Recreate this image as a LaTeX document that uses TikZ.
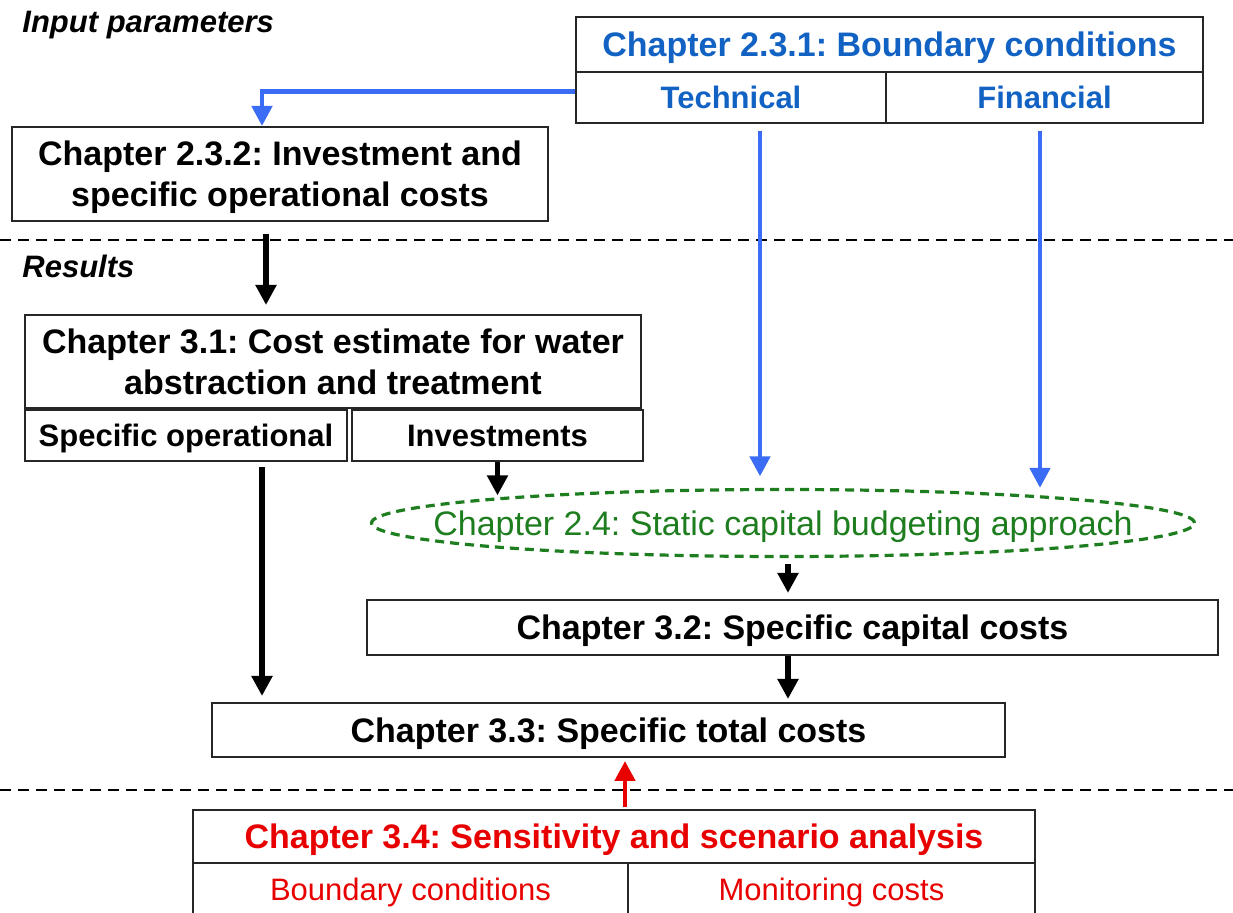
\documentclass[tikz,border=0pt]{standalone}
\usepackage{fontspec}
\setmainfont{Liberation Sans}
\usetikzlibrary{arrows.meta,shapes.geometric}
\frenchspacing

\definecolor{titleblue}{RGB}{18,98,196}
\definecolor{arrowblue}{RGB}{58,108,245}
\definecolor{budgetgreen}{RGB}{30,125,30}
\definecolor{sensred}{RGB}{232,0,0}

\tikzset{
  headB/.style={font=\fontsize{17pt}{20.5pt}\selectfont\bfseries},
  headR/.style={font=\fontsize{17pt}{20.5pt}\selectfont},
  subB/.style={font=\fontsize{15.5pt}{18pt}\selectfont\bfseries},
  subR/.style={font=\fontsize{15.5pt}{18pt}\selectfont},
  cell/.style={draw=black!85, line width=1pt, inner sep=0pt, align=center, text depth=0pt},
  flow/.style={line width=2.8pt, -{Triangle[width=10pt,length=10pt]}},
  blueflow/.style={flow, arrowblue, line width=2.3pt},
  sepline/.style={line width=1.4pt, dash pattern=on 5.5pt off 3.5pt},
  sectionlabel/.style={font=\fontsize{15.5pt}{18pt}\selectfont\bfseries\itshape, anchor=west, inner sep=0pt}
}

\begin{document}
\begin{tikzpicture}[x=0.5pt,y=-0.5pt]
\useasboundingbox (0,0) rectangle (1233,913);
\clip (0,0) rectangle (1233,913);

% section labels and separators
\node[sectionlabel] (inlab) at (22,25) {Input parameters};
\node[sectionlabel] (reslab) at (22,266) {Results};
\draw[sepline] (0,240) -- (1233,240);
\draw[sepline] (0,790) -- (1233,790);

% boundary conditions
\node[cell, headB, text=titleblue, minimum width=313.5pt, minimum height=27.5pt] (bnd) at (889.5,44.5) {Chapter 2.3.1: Boundary conditions};
\node[cell, subB, text=titleblue, minimum width=155pt, minimum height=25.5pt] (tech) at (731,97.5) {Technical};
\node[cell, subB, text=titleblue, minimum width=158.5pt, minimum height=25.5pt] (fin) at (1044.5,97.5) {Financial};

% investment and operational costs
\node[cell, headB, minimum width=268pt, minimum height=47pt] (inv232) at (280,174) {Chapter 2.3.2: Investment and\\specific operational costs};

% cost estimate
\node[cell, headB, minimum width=308pt, minimum height=46.5pt] (est) at (333,361.5) {Chapter 3.1: Cost estimate for water\\abstraction and treatment};
\node[cell, subB, minimum width=161pt, minimum height=25.5pt] (spo) at (186,435.5) {Specific operational};
\node[cell, subB, minimum width=145.5pt, minimum height=25.5pt] (invs) at (497.5,435.5) {Investments};

% static capital budgeting
\node[ellipse, draw=budgetgreen, line width=1.6pt, dash pattern=on 4.5pt off 3pt,
      inner sep=0pt, minimum width=411.5pt, minimum height=33.5pt, text depth=0pt,
      headR, text=budgetgreen] (scb) at (783,523) {\makebox[0pt]{Chapter 2.4: Static capital budgeting approach}};

% results
\node[cell, headB, minimum width=425.5pt, minimum height=27.5pt] (cap) at (792.5,627.5) {Chapter 3.2: Specific capital costs};
\node[cell, headB, minimum width=396.5pt, minimum height=27pt] (tot) at (608.5,730) {Chapter 3.3: Specific total costs};

% sensitivity analysis
\node[cell, headB, text=sensred, minimum width=421pt, minimum height=26.5pt] (sens) at (614,836.5) {Chapter 3.4: Sensitivity and scenario analysis};
\node[cell, subR, text=sensred, minimum width=217.5pt, minimum height=26pt] (sbc) at (410.5,889) {Boundary conditions};
\node[cell, subR, text=sensred, minimum width=203.5pt, minimum height=26pt] (smc) at (831.5,889) {Monitoring costs};

% blue connectors
\draw[blueflow] ([yshift=3pt]tech.west) -| ([xshift=-9pt]inv232.north);
\draw[blueflow, shorten <=3.5pt, shorten >=5.75pt] ([xshift=14.5pt]tech.south) -- ([xshift=14.5pt]tech.south |- scb.north);
\draw[blueflow, shorten <=3.5pt] ([xshift=-2.25pt]fin.south) -- ([xshift=-2.25pt]fin.south |- scb.north);

% black connectors
\draw[flow, shorten <=6pt, shorten >=4.5pt] ([xshift=-7pt]inv232.south) -- ([xshift=-7pt]inv232.south |- est.north);
\draw[flow, shorten <=2.5pt, shorten >=3pt] ([xshift=38pt]spo.south) -- ([xshift=38pt]spo.south |- tot.north);
\draw[flow, shorten >=-3.75pt] (invs.south) -- (invs.south |- scb.north);
\draw[flow, shorten <=3pt, shorten >=3pt] ([xshift=2.5pt]scb.south) -- ([xshift=2.5pt]scb.south |- cap.north);
\draw[flow, shorten >=1.5pt] ([xshift=-2.25pt]cap.south) -- ([xshift=-2.25pt]cap.south |- tot.north);

% red connector
\draw[flow, sensred, line width=2.3pt, shorten <=1pt, shorten >=1.5pt] ([xshift=5.5pt]sens.north) -- ([xshift=5.5pt]sens.north |- tot.south);
\end{tikzpicture}
\end{document}
